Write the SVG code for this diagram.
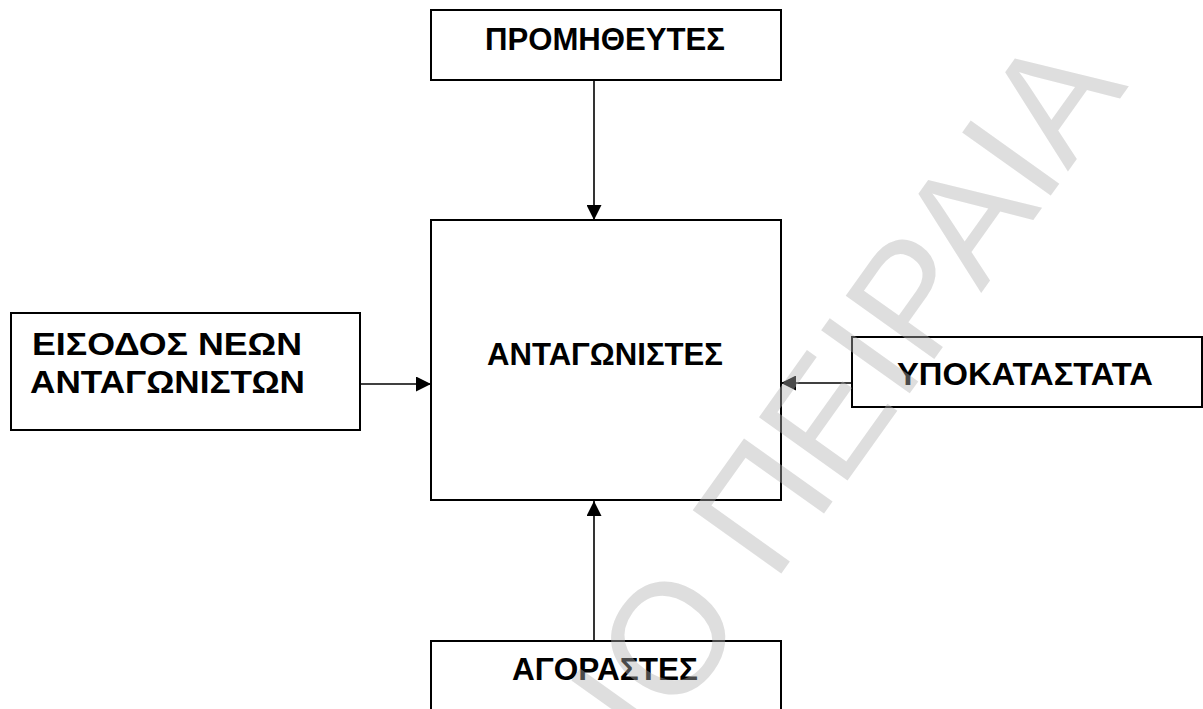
<svg xmlns="http://www.w3.org/2000/svg" width="1203" height="709" viewBox="0 0 1203 709">
  <style>
    .box { fill: #ffffff; stroke: #000000; stroke-width: 2; }
    .lbl { font-family: "Liberation Sans", Arial, sans-serif; font-weight: bold; font-size: 30.5px; fill: #000000; text-anchor: middle; }
    .conn { stroke: #000000; stroke-width: 1.6; fill: none; marker-end: url(#arrow); }
    .wm { font-family: "Liberation Sans", Arial, sans-serif; font-size: 158px; fill: #b0b0b0; fill-opacity: 0.42; text-anchor: end; }
  </style>
  <defs>
    <marker id="arrow" markerUnits="userSpaceOnUse" markerWidth="15" markerHeight="15" refX="15" refY="7.5" orient="auto">
      <path d="M0,0 L15,7.5 L0,15 z" fill="#000000"/>
    </marker>
  </defs>
  <rect width="1203" height="709" fill="#ffffff"/>
  <g id="node-promitheftes">
    <rect class="box" x="431" y="10" width="350" height="70"/>
    <text class="lbl" x="605" y="50" textLength="240" lengthAdjust="spacingAndGlyphs">ΠΡΟΜΗΘΕΥΤΕΣ</text>
  </g>
  <g id="node-antagonistes">
    <rect class="box" x="431" y="220" width="350" height="280"/>
    <text class="lbl" x="605" y="365" textLength="236" lengthAdjust="spacingAndGlyphs">ΑΝΤΑΓΩΝΙΣΤΕΣ</text>
  </g>
  <g id="node-eisodos">
    <rect class="box" x="11" y="313" width="349" height="117"/>
    <text class="lbl" x="167" y="355" textLength="270" lengthAdjust="spacingAndGlyphs">ΕΙΣΟΔΟΣ ΝΕΩΝ</text>
    <text class="lbl" x="167.5" y="393" textLength="275" lengthAdjust="spacingAndGlyphs">ΑΝΤΑΓΩΝΙΣΤΩΝ</text>
  </g>
  <g id="node-ypokatastata">
    <rect class="box" x="852" y="337" width="350" height="70"/>
    <text class="lbl" x="1025" y="385" textLength="256" lengthAdjust="spacingAndGlyphs">ΥΠΟΚΑΤΑΣΤΑΤΑ</text>
  </g>
  <g id="node-agorastes">
    <rect class="box" x="431" y="641" width="350" height="80"/>
    <text class="lbl" x="605" y="680" textLength="186" lengthAdjust="spacingAndGlyphs">ΑΓΟΡΑΣΤΕΣ</text>
  </g>
  <g id="connectors">
    <line class="conn" x1="594" y1="80" x2="594" y2="220"/>
    <line class="conn" x1="360" y1="384" x2="431" y2="384"/>
    <line class="conn" x1="852" y1="383" x2="781" y2="383"/>
    <line class="conn" x1="594" y1="641" x2="594" y2="501"/>
  </g>
  <text class="wm" transform="translate(1129,86) rotate(-54.5)" x="0" y="0">ΙΟ ΠΕΙΡΑΙΑ</text>
</svg>
